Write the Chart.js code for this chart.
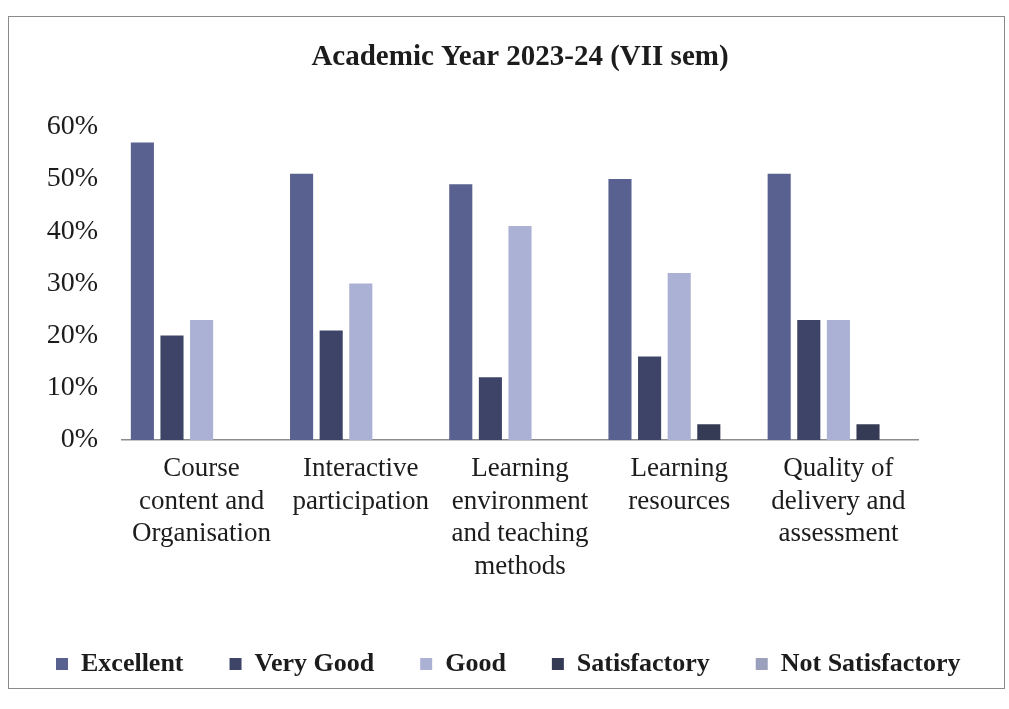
<!DOCTYPE html>
<html>
<head>
<meta charset="utf-8">
<script src="https://cdn.jsdelivr.net/npm/chart.js@4"></script>
<style>
  html, body { margin: 0; padding: 0; background: #fff; }
  #wrap { position: relative; width: 1009px; height: 709px; }
  #frame { position: absolute; left: 8px; top: 16px; width: 997px; height: 673px; border: 1px solid #8a8a8a; box-sizing: border-box; }
  #chart { position: absolute; left: 0; top: 0; }
</style>
</head>
<body>
<div id="wrap">
  <div id="frame"></div>
  <canvas id="chart" width="1009" height="709"></canvas>
</div>
<script>
const categories = [
    ['Course', 'content and', 'Organisation'],
    ['Interactive', 'participation'],
    ['Learning', 'environment', 'and teaching', 'methods'],
    ['Learning', 'resources'],
    ['Quality of', 'delivery and', 'assessment']
];
const excellent = [57, 51, 49, 50, 51];
const veryGood = [20, 21, 12, 16, 23];
const good = [23, 30, 41, 32, 23];
const satisfactory = [0, 0, 0, 3, 3];
const notSatisfactory = [0, 0, 0, 0, 0];
const yTicks = [0, 10, 20, 30, 40, 50, 60];

const serif = "'Liberation Serif', 'Times New Roman', serif";
const textColor = '#1c1c1c';

const ctx = document.getElementById('chart').getContext('2d');

const chart = new Chart(ctx, {
    type: 'bar',
    data: {
        labels: categories,
        datasets: [
            { label: 'Excellent', data: excellent, backgroundColor: '#58618f' },
            { label: 'Very Good', data: veryGood, backgroundColor: '#3d4467' },
            { label: 'Good', data: good, backgroundColor: '#aab1d4' },
            { label: 'Satisfactory', data: satisfactory, backgroundColor: '#363b55' },
            { label: 'Not Satisfactory', data: notSatisfactory, backgroundColor: '#9ba1bd' }
        ]
    },
    options: {
        responsive: false,
        animation: false,
        layout: { padding: { left: 10, right: 0, top: 10, bottom: 22 } },
        datasets: {
            bar: { categoryPercentage: 0.93, barPercentage: 0.78 }
        },
        plugins: {
            title: {
                display: true,
                text: 'Academic Year 2023-24 (VII sem)',
                fullSize: false,
                color: textColor,
                font: { family: serif, size: 29, weight: 'bold' },
                padding: { top: 30, bottom: 52 }
            },
            legend: {
                position: 'bottom',
                align: 'start',
                labels: {
                    color: textColor,
                    boxWidth: 12,
                    boxHeight: 12,
                    padding: 46,
                    font: { family: serif, size: 26, weight: 'bold' }
                }
            },
            tooltip: { enabled: false }
        },
        scales: {
            x: {
                grid: { display: false, drawTicks: false },
                border: { display: true, color: '#8c8c8c', width: 1.5 },
                ticks: {
                    color: textColor,
                    padding: 12,
                    maxRotation: 0,
                    autoSkip: false,
                    font: { family: serif, size: 27, lineHeight: 1.22 }
                },
                afterFit: s => { s.height = 165; }
            },
            y: {
                min: 0,
                max: 60,
                afterBuildTicks: s => { s.ticks = yTicks.map(v => ({ value: v })); },
                grid: { display: false, drawTicks: false },
                border: { display: false },
                ticks: {
                    color: textColor,
                    padding: 24,
                    callback: v => v + '%',
                    font: { family: serif, size: 28 }
                },
                afterFit: s => { s.width = 112; }
            },
            // empty right-hand axis, only reserves the white margin on the right
            yRight: {
                position: 'right',
                grid: { display: false, drawTicks: false },
                border: { display: false },
                ticks: { display: false },
                afterFit: s => { s.width = 91; }
            }
        }
    }
});
</script>
</body>
</html>
